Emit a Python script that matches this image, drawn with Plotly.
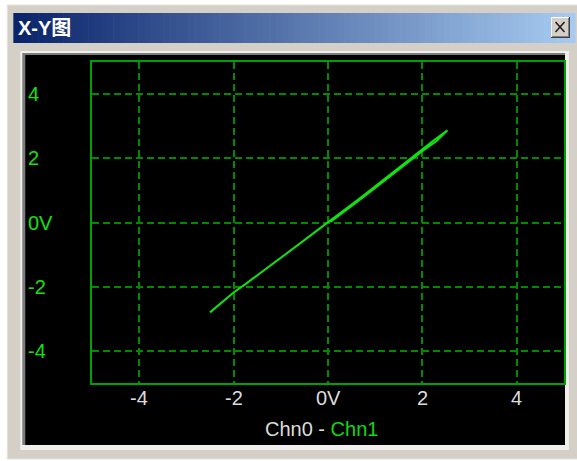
import plotly.graph_objects as go

# ---- data -------------------------------------------------------------
# X-Y trace: Chn0 on the horizontal axis, Chn1 on the vertical axis
chn0 = [-2.50, -2.25, -2.00, -1.75, -1.50, -1.25, -1.00, -0.75, -0.50, -0.25,
        0.00, 0.25, 0.50, 0.75, 1.00, 1.25, 1.50, 1.75, 2.00, 2.25, 2.53,
        2.30, 2.05, 1.80, 1.55, 1.30, 1.05, 0.80, 0.55, 0.30, 0.05]
chn1 = [-2.80, -2.48, -2.18, -1.92, -1.65, -1.38, -1.10, -0.83, -0.55, -0.27,
        0.00, 0.28, 0.56, 0.84, 1.13, 1.41, 1.70, 1.99, 2.28, 2.57, 2.87,
        2.54, 2.28, 1.99, 1.70, 1.41, 1.13, 0.85, 0.57, 0.29, 0.02]

tick_vals = [-4, -2, 0, 2, 4]
tick_text = ["-4", "-2", "0V", "2", "4"]
axis_range = [-5, 5]
window_title = "X-Y图"

# ---- geometry (pixels) --------------------------------------------------
W, H = 577, 461
PL, PR, PT, PB = 92, 566, 62, 383          # plot-area edges


def px(x):
    return (x - PL) / (PR - PL)


def py(y):
    return (PB - y) / (PB - PT)


def rect(x0, y0, x1, y1, fill, line=None, lw=0):
    return dict(type="rect", xref="paper", yref="paper", layer="below",
                x0=px(x0), x1=px(x1), y0=py(y1), y1=py(y0),
                fillcolor=fill, line=dict(color=line or fill, width=lw))


shapes = []
# window body
shapes.append(rect(7, 5, 580, 459, "#d4d0c8", "#e4e1da", 1))

# title bar gradient (navy -> light blue)
c0, c1 = (10, 36, 106), (166, 202, 240)
n_strips = 90
x_start, x_end = 13, 577
step = (x_end - x_start) / n_strips
for i in range(n_strips):
    t = i / (n_strips - 1)
    col = "rgb({},{},{})".format(*[round(a + (b - a) * t) for a, b in zip(c0, c1)])
    shapes.append(rect(x_start + i * step, 13, x_start + (i + 1) * step + 0.6, 43, col))

# close button
shapes.append(rect(553, 17, 572, 38, "#404040"))
shapes.append(rect(553, 17, 571, 37, "#ffffff"))
shapes.append(rect(554, 18, 571, 37, "#808080"))
shapes.append(rect(554, 18, 570, 36, "#d4d0c8"))
for (xa, ya, xb, yb) in [(557.5, 22, 566.5, 32), (557.5, 32, 566.5, 22)]:
    shapes.append(dict(type="line", xref="paper", yref="paper", layer="below",
                       x0=px(xa), y0=py(ya), x1=px(xb), y1=py(yb),
                       line=dict(color="#202020", width=1.6)))

# sunken display panel
shapes.append(rect(20, 51, 571, 450, "#f0efec"))
shapes.append(rect(22, 53, 567, 445, "#7c7c7c"))
shapes.append(rect(25, 55, 567, 445, "#000000"))

fig = go.Figure()
fig.add_trace(go.Scatter(
    x=chn0, y=chn1, mode="lines",
    line=dict(color="#12e012", width=2),
    hoverinfo="skip", showlegend=False,
))

FONT = "Liberation Sans, Arial, sans-serif"
FS = 20
annotations = []
# vertical-axis labels, left aligned in the panel
for v, t in zip(tick_vals, tick_text):
    annotations.append(dict(
        x=px(26), xref="paper", y=v, yref="y", text=t, showarrow=False,
        xanchor="left", yanchor="middle",
        font=dict(family=FONT, size=FS, color="#14e014"),
    ))
# horizontal-axis labels, under the frame
for v, t in zip(tick_vals, tick_text):
    annotations.append(dict(
        x=v, xref="x", y=py(397.5), yref="paper", text=t, showarrow=False,
        xanchor="center", yanchor="middle",
        font=dict(family=FONT, size=FS, color="#dcdcdc"),
    ))
# axis caption: Chn0 (grey) - Chn1 (green)
annotations.append(dict(
    x=px(322), xref="paper", y=py(429), yref="paper", showarrow=False,
    xanchor="center", yanchor="middle",
    text="<span style='color:#dcdcdc'>Chn0 - </span>"
         "<span style='color:#10d810'>Chn1</span>",
    font=dict(family=FONT, size=FS),
))
# window caption
annotations.append(dict(
    x=px(16), xref="paper", y=py(28.5), yref="paper", showarrow=False,
    xanchor="left", yanchor="middle", text="<b>" + window_title + "</b>",
    font=dict(family="Liberation Sans, Noto Sans CJK SC, sans-serif",
              size=20, color="#ffffff"),
))

axis_common = dict(
    range=axis_range, tickvals=tick_vals, ticks="", showticklabels=False,
    showgrid=True, gridcolor="#008a00", gridwidth=1.5, griddash="7px,4px",
    zeroline=False, showline=True, mirror=True,
    linecolor="#00a000", linewidth=2, fixedrange=True,
)

fig.update_layout(
    width=W, height=H,
    margin=dict(l=PL, r=W - PR, t=PT, b=H - PB, pad=0),
    paper_bgcolor="#ffffff", plot_bgcolor="#000000",
    shapes=shapes, annotations=annotations,
    xaxis=dict(**axis_common),
    yaxis=dict(**axis_common),
)

fig.write_html("out.html", config={"displayModeBar": False})
